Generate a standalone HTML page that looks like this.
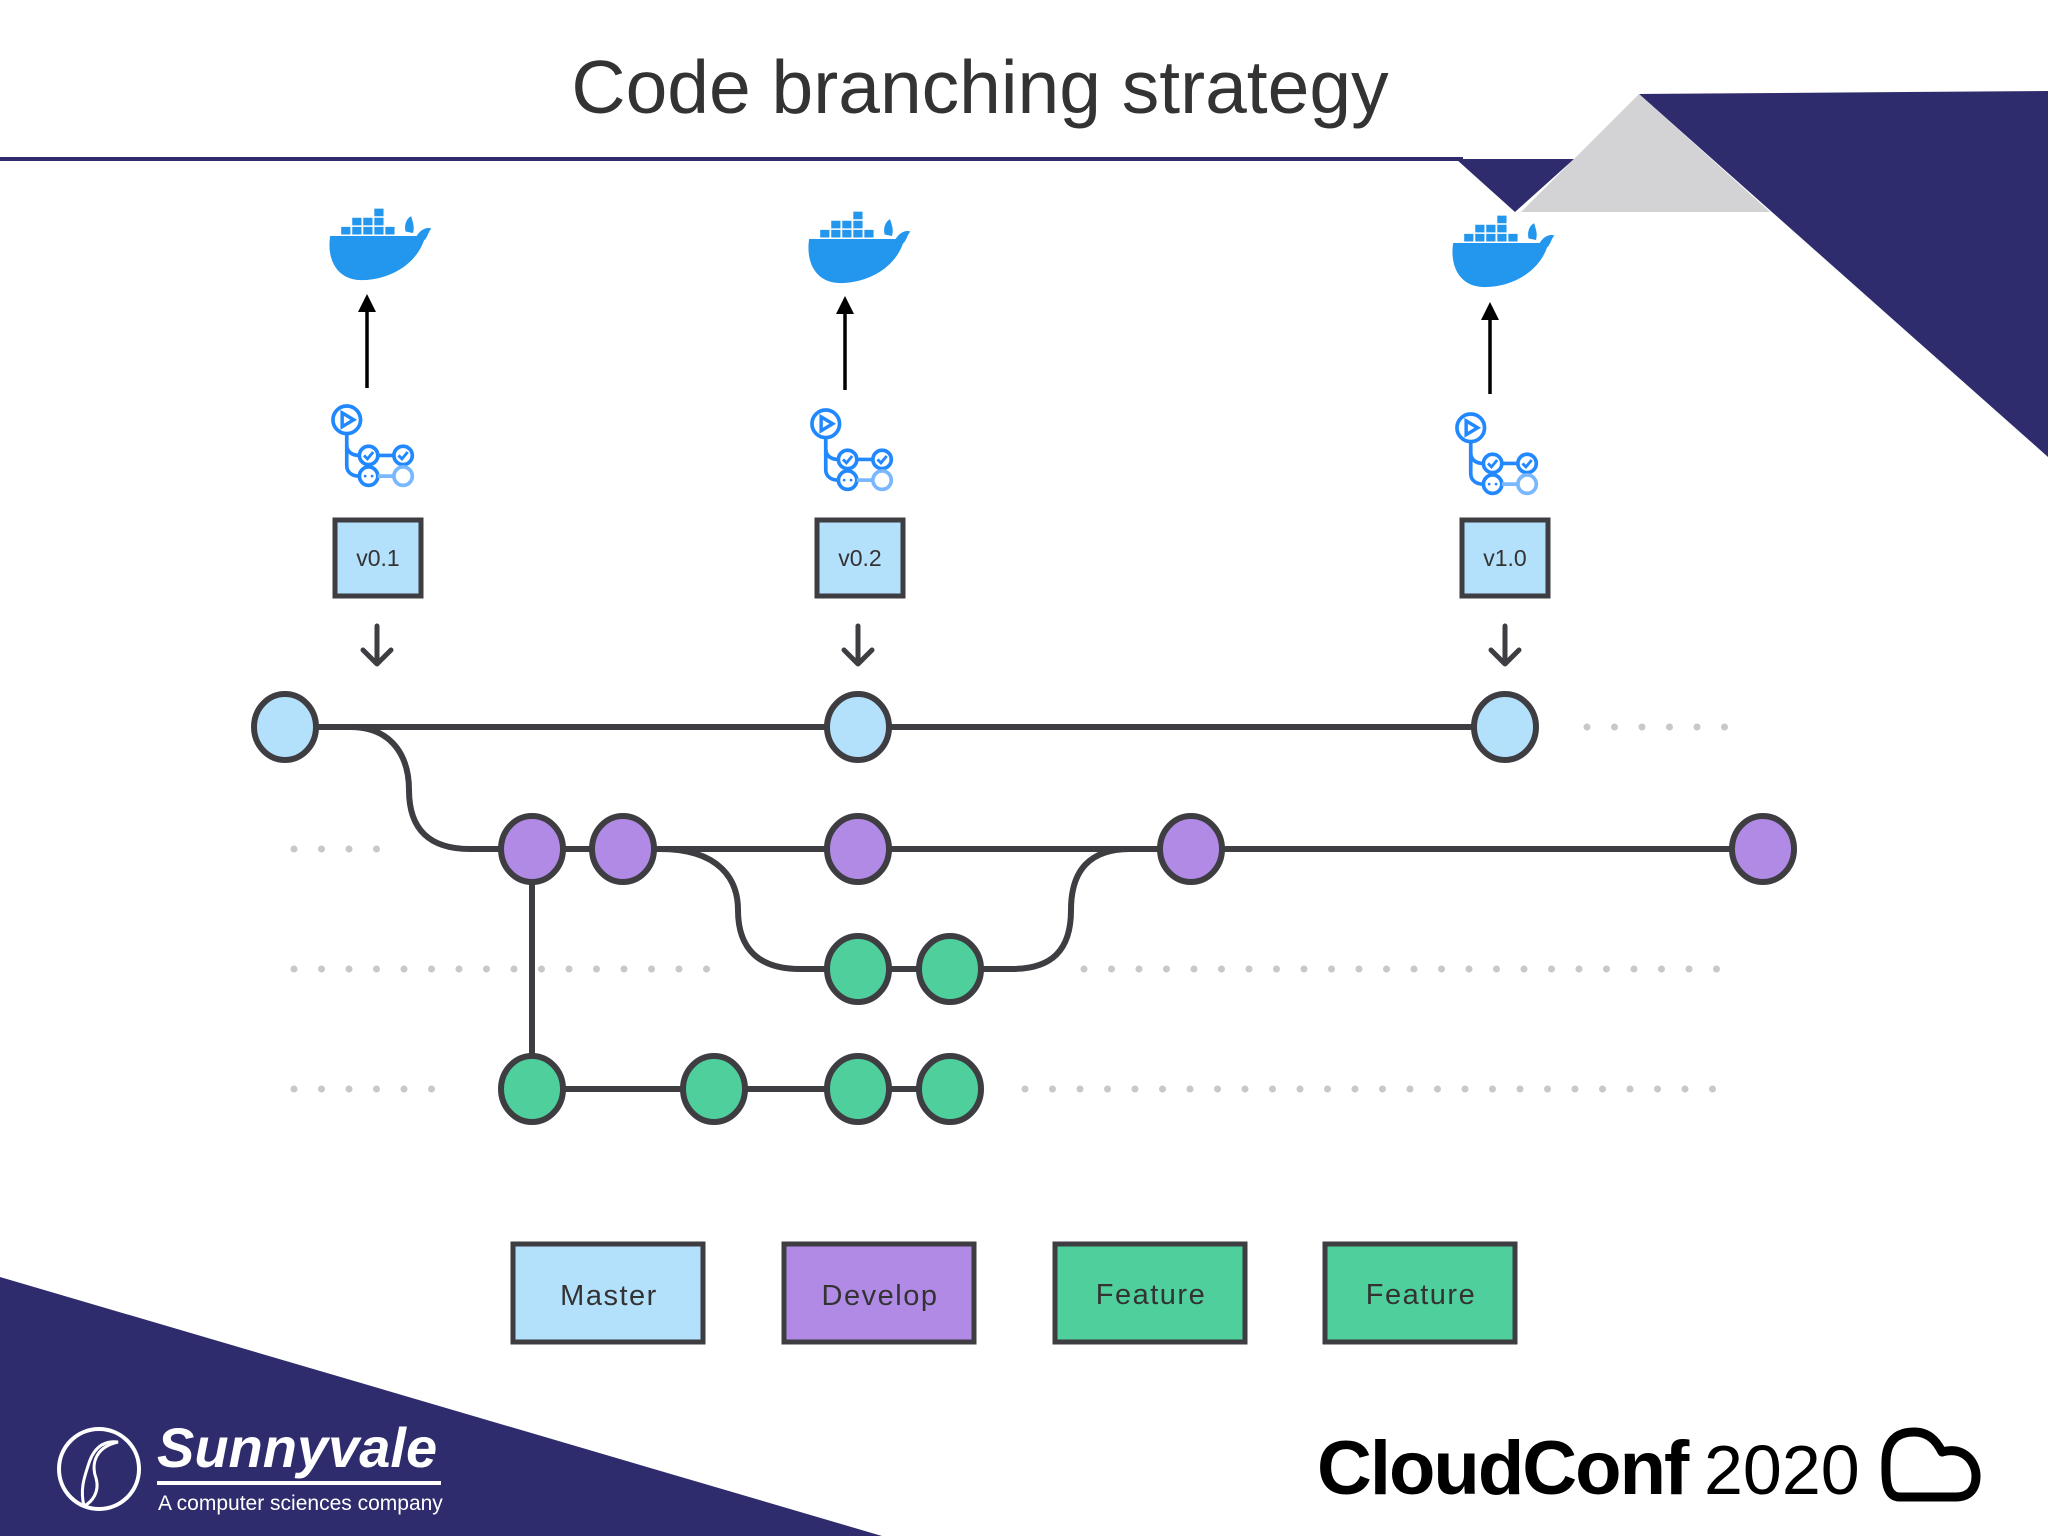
<!DOCTYPE html>
<html><head><meta charset="utf-8"><style>
html,body{margin:0;padding:0;background:#fff}
svg{display:block}
</style></head><body>
<svg width="2048" height="1536" viewBox="0 0 2048 1536" xmlns="http://www.w3.org/2000/svg">
<defs>
<g id="whale">
  <path d="M-52,0 H42 C46,-8 52,-12 58,-10 C54,-4 54,2 50,6 C40,40 10,58 -18,58 C-44,58 -56,32 -52,0 Z" fill="#2396ed"/>
  <g fill="#2396ed">
    <rect x="-40" y="-12" width="10" height="10"/><rect x="-28" y="-12" width="10" height="10"/><rect x="-16" y="-12" width="10" height="10"/><rect x="-4" y="-12" width="10" height="10"/><rect x="8" y="-12" width="10" height="10"/>
    <rect x="-28" y="-24" width="10" height="10"/><rect x="-16" y="-24" width="10" height="10"/><rect x="-4" y="-24" width="10" height="10"/>
    <rect x="-4" y="-36" width="10" height="10"/>
    <path d="M30,-6 C28,-16 32,-24 36,-26 C38,-18 40,-12 38,-4 Z"/>
  </g>
</g>
<g id="act" fill="none" stroke="#2188ff" stroke-width="3.2">
  <circle cx="-15" cy="-28" r="12"/>
  <path d="M-19,-34 L-9,-28 L-19,-22 Z" stroke-width="3"/>
  <path d="M-15,-16 V12 C-15,18 -10,21 -4,21"/>
  <path d="M-15,-6 C-15,0 -10,3 -4,3"/>
  <circle cx="4" cy="3" r="8"/><circle cx="34" cy="3" r="8"/>
  <path d="M12,3 H26"/>
  <path d="M0,3 l3,3 l5,-6 M30,3 l3,3 l5,-6" stroke-width="2.5"/>
  <circle cx="4" cy="21" r="8"/>
  <circle cx="34" cy="21" r="8" stroke="#79b8ff"/>
  <path d="M12,21 H26" stroke="#79b8ff"/>
  <circle cx="1" cy="21" r="1.2" fill="#2188ff" stroke="none"/><circle cx="7" cy="21" r="1.2" fill="#2188ff" stroke="none"/>
</g>
</defs>

<polygon points="1639,94 2048,91 2048,457" fill="#2e2c6c"/>
<polygon points="1456,159 1574,159 1515,212" fill="#2e2c6c"/>
<polygon points="1639,94 1521,212 1770,212" fill="#d3d3d5"/>
<polygon points="0,1277 882,1536 0,1536" fill="#2e2c6c"/>
<line x1="0" y1="159" x2="1463" y2="159" stroke="#2e2c6c" stroke-width="4"/>

<text x="980" y="113" text-anchor="middle" font-family="Liberation Sans, sans-serif" font-size="75" fill="#333">Code branching strategy</text>

<use href="#whale" transform="translate(378,236) scale(0.92,0.76)"/>
<use href="#whale" transform="translate(857,239) scale(0.92,0.76)"/>
<use href="#whale" transform="translate(1501,243) scale(0.92,0.76)"/>

<g stroke="#000" stroke-width="3.5" fill="#000">
<line x1="367" y1="388" x2="367" y2="310"/><polygon points="358,312 376,312 367,294" stroke="none"/>
<line x1="845" y1="390" x2="845" y2="312"/><polygon points="836,314 854,314 845,296" stroke="none"/>
<line x1="1490" y1="394" x2="1490" y2="318"/><polygon points="1481,320 1499,320 1490,302" stroke="none"/>
</g>

<use href="#act" transform="translate(364,452) scale(1.15)"/>
<use href="#act" transform="translate(843,456) scale(1.15)"/>
<use href="#act" transform="translate(1488,460) scale(1.15)"/>

<g fill="#b3e0fb" stroke="#3d3d42" stroke-width="5">
<rect x="335" y="520" width="86" height="76"/>
<rect x="817" y="520" width="86" height="76"/>
<rect x="1462" y="520" width="86" height="76"/>
</g>
<g font-family="Liberation Sans, sans-serif" font-size="23" fill="#333" text-anchor="middle">
<text x="378" y="566">v0.1</text><text x="860" y="566">v0.2</text><text x="1505" y="566">v1.0</text>
</g>

<g stroke="#3d3d42" stroke-width="5" fill="none" stroke-linecap="round" stroke-linejoin="round">
<path d="M377,626 V664 M363,650 L377,664 L391,650"/>
<path d="M858,626 V664 M844,650 L858,664 L872,650"/>
<path d="M1505,626 V664 M1491,650 L1505,664 L1519,650"/>
</g>

<g stroke="#c8c8c8" stroke-width="7" stroke-linecap="round" stroke-dasharray="0 27.5">
<line x1="1587" y1="727" x2="1740" y2="727"/>
<line x1="294" y1="849" x2="380" y2="849"/>
<line x1="294" y1="969" x2="725" y2="969"/>
<line x1="1084" y1="969" x2="1740" y2="969"/>
<line x1="294" y1="1089" x2="457" y2="1089"/>
<line x1="1025" y1="1089" x2="1740" y2="1089"/>
</g>

<g stroke="#3d3d42" stroke-width="6" fill="none">
<line x1="285" y1="727" x2="1505" y2="727"/>
<path d="M285,727 H350 C395,727 409,760 409,790 C409,830 430,849 470,849 H532"/>
<line x1="532" y1="849" x2="1763" y2="849"/>
<path d="M660,849 C720,849 738,880 738,910 C738,950 760,969 800,969 H1012 C1052,969 1071,950 1071,910 C1071,870 1090,849 1130,849"/>
<line x1="532" y1="849" x2="532" y2="1089"/>
<line x1="532" y1="1089" x2="950" y2="1089"/>
</g>

<g stroke="#3d3d42" stroke-width="6">
<g fill="#b3e0fb"><ellipse cx="285" cy="727" rx="31" ry="33"/><ellipse cx="858" cy="727" rx="31" ry="33"/><ellipse cx="1505" cy="727" rx="31" ry="33"/></g>
<g fill="#b18ae6"><ellipse cx="532" cy="849" rx="31" ry="33"/><ellipse cx="623" cy="849" rx="31" ry="33"/><ellipse cx="858" cy="849" rx="31" ry="33"/><ellipse cx="1191" cy="849" rx="31" ry="33"/><ellipse cx="1763" cy="849" rx="31" ry="33"/></g>
<g fill="#4fcf9c"><ellipse cx="858" cy="969" rx="31" ry="33"/><ellipse cx="950" cy="969" rx="31" ry="33"/>
<ellipse cx="532" cy="1089" rx="31" ry="33"/><ellipse cx="714" cy="1089" rx="31" ry="33"/><ellipse cx="858" cy="1089" rx="31" ry="33"/><ellipse cx="950" cy="1089" rx="31" ry="33"/></g>
</g>

<g stroke="#3d3d42" stroke-width="5">
<rect x="513" y="1244" width="190" height="98" fill="#b3e0fb"/>
<rect x="784" y="1244" width="190" height="98" fill="#b18ae6"/>
<rect x="1055" y="1244" width="190" height="98" fill="#4fcf9c"/>
<rect x="1325" y="1244" width="190" height="98" fill="#4fcf9c"/>
</g>
<g font-family="Liberation Sans, sans-serif" font-size="29" fill="#333" text-anchor="middle" letter-spacing="1.5">
<text x="609" y="1305">Master</text><text x="880" y="1305">Develop</text><text x="1151" y="1304">Feature</text><text x="1421" y="1304">Feature</text>
</g>

<circle cx="99" cy="1469" r="40" fill="none" stroke="#fff" stroke-width="4"/>
<path d="M118,1442 C92,1448 92,1468 96,1478 C100,1492 92,1502 84,1506 C80,1490 84,1478 88,1466 C92,1452 100,1440 118,1442 Z" fill="none" stroke="#fff" stroke-width="3"/>
<text x="157" y="1467" font-family="Liberation Sans, sans-serif" font-size="56" font-weight="bold" font-style="italic" fill="#fff">Sunnyvale</text>
<rect x="157" y="1481" width="284" height="4" fill="#fff"/>
<text x="158" y="1510" font-family="Liberation Sans, sans-serif" font-size="21" fill="#fff">A computer sciences company</text>

<text x="1317" y="1494" font-family="Liberation Sans, sans-serif" font-size="76" font-weight="bold" fill="#000" letter-spacing="-2">CloudConf</text>
<text x="1704" y="1494" font-family="Liberation Sans, sans-serif" font-size="70" fill="#000">2020</text>
<path d="M1900,1497 C1884,1497 1886,1474 1886,1462 C1886,1440 1898,1432 1914,1432 C1928,1432 1936,1440 1942,1452 C1964,1446 1976,1462 1976,1476 C1976,1490 1968,1497 1956,1497 Z" fill="none" stroke="#000" stroke-width="9" stroke-linejoin="round"/>
</svg>
</body></html>
